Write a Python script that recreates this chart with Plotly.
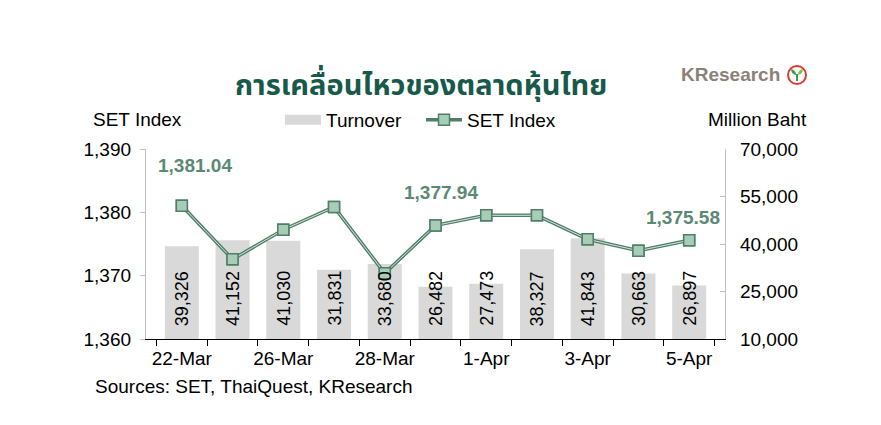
import plotly.graph_objects as go

dates = ["22-Mar", "25-Mar", "26-Mar", "27-Mar", "28-Mar", "29-Mar",
         "1-Apr", "2-Apr", "3-Apr", "4-Apr", "5-Apr"]
turnover = [39326, 41152, 41030, 31831, 33680, 26482, 27473, 38327, 41843, 30663, 26897]
set_index = [1381.04, 1372.58, 1377.26, 1380.84, 1370.37, 1377.94, 1379.53, 1379.53, 1375.74, 1373.94, 1375.58]
tick_text = [d if i % 2 == 0 else "" for i, d in enumerate(dates)]
labelled_points = [0, 5, 10]
label_shift = {0: (13, 40), 5: (5, 33), 10: (-6, 23)}

FONT = "Liberation Sans, Arial, sans-serif"
FS = 19
GREEN = "#4f7f68"
LABEL_GREEN = "#5b8a72"

# plot area in pixels
L, R, T, B = 146, 725, 149, 339
W, H = 881, 425

fig = go.Figure()

fig.add_trace(go.Bar(
    x=dates, y=turnover, name="Turnover", marker=dict(color="#d9d9d9", line=dict(width=0)),
    yaxis="y", showlegend=False, hoverinfo="x+y"))

# legend proxy for wide gray swatch
fig.add_trace(go.Scatter(
    x=[None], y=[None], mode="lines", name="Turnover",
    line=dict(color="#d9d9d9", width=10), yaxis="y"))

fig.add_trace(go.Scatter(
    x=dates, y=set_index, name="SET Index", mode="lines+markers", yaxis="y2",
    line=dict(color=GREEN, width=3.5),
    marker=dict(symbol="square", size=11, color="#a8cdb7", line=dict(color=GREEN, width=1.5))))

fig.add_trace(go.Scatter(
    x=dates, y=set_index, mode="lines", yaxis="y2", showlegend=False, hoverinfo="skip",
    line=dict(color="#d4e6da", width=1)))
fig.add_trace(go.Scatter(
    x=dates, y=set_index, mode="markers", yaxis="y2", showlegend=False, hoverinfo="skip",
    marker=dict(symbol="square", size=11, color="#a8cdb7", line=dict(color=GREEN, width=1.5))))

annotations = []
for d, v in zip(dates, turnover):
    annotations.append(dict(
        x=d, y=10000, xref="x", yref="y", text=f"{v:,}", showarrow=False,
        textangle=-90, yanchor="bottom", xanchor="center", yshift=11,
        font=dict(family=FONT, size=18, color="#000000")))

for i in labelled_points:
    dx, dy = label_shift[i]
    annotations.append(dict(
        x=dates[i], y=set_index[i], xref="x", yref="y2", text=f"<b>{set_index[i]:,.2f}</b>",
        showarrow=False, xshift=dx, yshift=dy, xanchor="center", yanchor="middle",
        font=dict(family=FONT, size=19, color=LABEL_GREEN)))

def px_x(p):
    return (p - L) / (R - L)

def px_y(p):
    return (B - p) / (B - T)

annotations += [
    dict(x=px_x(421), y=px_y(86), xref="paper", yref="paper", showarrow=False,
         xanchor="center", yanchor="middle",
         text="<b>การเคลื่อนไหวของตลาดหุ้นไทย</b>",
         font=dict(family="Noto Sans Thai, Noto Sans, sans-serif", size=29, color="#17594a")),
    dict(x=px_x(679), y=px_y(75), xref="paper", yref="paper", showarrow=False,
         xanchor="left", yanchor="middle",
         text="<b>KResearch</b>", font=dict(family=FONT, size=19, color="#8b8178")),
    dict(x=px_x(91), y=px_y(119), xref="paper", yref="paper", showarrow=False,
         xanchor="left", yanchor="middle",
         text="SET Index", font=dict(family=FONT, size=FS, color="#000000")),
    dict(x=px_x(809), y=px_y(119), xref="paper", yref="paper", showarrow=False,
         xanchor="right", yanchor="middle",
         text="Million Baht", font=dict(family=FONT, size=FS, color="#000000")),
    dict(x=px_x(93), y=px_y(386), xref="paper", yref="paper", showarrow=False,
         xanchor="left", yanchor="middle",
         text="Sources: SET, ThaiQuest, KResearch", font=dict(family=FONT, size=FS, color="#000000")),
]

shapes = [
    dict(type="circle", xref="paper", yref="paper", xsizemode="pixel", ysizemode="pixel",
         xanchor=px_x(797), yanchor=px_y(75), x0=-9, x1=9, y0=-9, y1=9,
         line=dict(color="#e03a2f", width=2), fillcolor="white"),
    dict(type="path", xref="paper", yref="paper", xsizemode="pixel", ysizemode="pixel",
         xanchor=px_x(797), yanchor=px_y(75),
         path="M -1 -6 L 1 -6 L 1 1 L -1 1 Z", fillcolor="#3aa04a", line=dict(width=0)),
    dict(type="path", xref="paper", yref="paper", xsizemode="pixel", ysizemode="pixel",
         xanchor=px_x(797), yanchor=px_y(75),
         path="M -1 0 Q -6 1 -6 6 Q -1 5 -1 0 Z", fillcolor="#3aa04a", line=dict(width=0)),
    dict(type="path", xref="paper", yref="paper", xsizemode="pixel", ysizemode="pixel",
         xanchor=px_x(797), yanchor=px_y(75),
         path="M 1 0 Q 6 1 6 6 Q 1 5 1 0 Z", fillcolor="#7cc242", line=dict(width=0)),
]

fig.update_layout(
    width=W, height=H,
    margin=dict(l=L, r=W - R, t=T, b=H - B, pad=0, autoexpand=False),
    paper_bgcolor="white", plot_bgcolor="white",
    font=dict(family=FONT, size=FS, color="#000000"),
    bargap=0.33,
    showlegend=True,
    legend=dict(orientation="h", xref="container", yref="container",
                x=280 / W, y=1 - 120 / H, xanchor="left", yanchor="middle",
                font=dict(family=FONT, size=FS, color="#000000"),
                bgcolor="rgba(0,0,0,0)", itemwidth=36, tracegroupgap=0,
                entrywidth=90),
    xaxis=dict(type="category", tickmode="array", tickvals=dates, ticktext=tick_text,
               tickson="boundaries", ticks="outside", ticklen=6, tickcolor="#000000",
               tickangle=0, automargin=False, ticklabelstandoff=2,
               showline=True, linecolor="#000000", linewidth=1.3, showgrid=False,
               zeroline=False, tickfont=dict(size=FS), fixedrange=True),
    yaxis=dict(side="right", range=[10000, 70000], dtick=15000, tick0=10000,
               tickformat=",d", showgrid=False, zeroline=False, automargin=False,
               showline=True, linecolor="#c0c0c0", linewidth=1.3,
               ticks="inside", ticklen=5, tickcolor="#c0c0c0", ticklabelstandoff=10,
               tickfont=dict(size=FS)),
    yaxis2=dict(side="left", overlaying="y", range=[1360, 1390], dtick=10,
                tickformat=",d", showgrid=False, zeroline=False, automargin=False,
                showline=True, linecolor="#c0c0c0", linewidth=1.3,
                ticks="outside", ticklen=5, tickcolor="#c0c0c0", ticklabelstandoff=5,
                tickfont=dict(size=FS)),
    annotations=annotations,
    shapes=shapes,
)

fig.write_html("out.html")
